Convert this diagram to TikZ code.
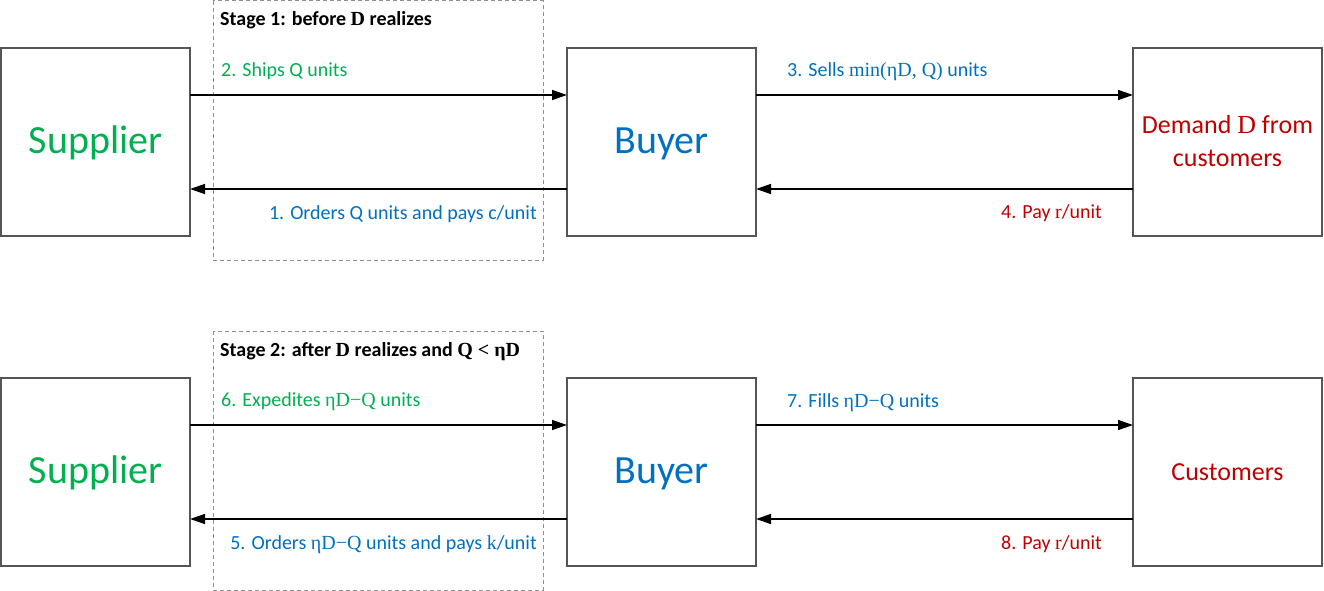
\documentclass[tikz,border=0pt]{standalone}
\usepackage{fontspec}
\setmainfont{Carlito}
\newfontfamily\mfont{Liberation Serif}
\usetikzlibrary{arrows.meta}
\definecolor{cgreen}{HTML}{00B050}
\definecolor{cblue}{HTML}{0070C0}
\definecolor{cred}{HTML}{C00000}
\definecolor{cbox}{HTML}{555555}
\definecolor{cdash}{HTML}{909090}
\newcommand{\mth}[1]{{\mfont #1}}
\begin{document}
\begin{tikzpicture}[x=1pt,y=-1pt,
  actor/.style={draw=cbox,line width=1.3pt,minimum width=189pt,minimum height=188pt,inner sep=0pt,align=center},
  flow/.style={line width=1.4pt,-{Triangle[length=15pt,width=10pt]}},
  stagebox/.style={draw=cdash,line width=1pt,dash pattern=on 4pt off 3pt},
  lbl/.style={inner sep=0pt,font=\fontsize{20}{24}\selectfont},
  ttl/.style={inner sep=0pt,font=\bfseries\fontsize{20}{24}\selectfont}]
\useasboundingbox (0,0) rectangle (1324,591);
% stage boxes
\draw[stagebox] (213,1) rectangle (543,260);
\draw[stagebox] (213,331) rectangle (543,590);
% top row
\node[actor] (s1) at (95.5,142) {};
\node[actor] (b1) at (661.5,142) {};
\node[actor] (d1) at (1227.5,142) {};
\node[inner sep=0pt,anchor=base,text=cgreen,font=\fontsize{40}{48}\selectfont] (s1t) at (95.5,153) {Supplier};
\node[inner sep=0pt,anchor=base,text=cblue,font=\fontsize{40}{48}\selectfont] (b1t) at (661.5,153) {Buyer};
\node[inner sep=0pt,anchor=base,text=cred,font=\fontsize{26}{32}\selectfont] (d1t) at (1227.5,133) {Demand \mth{D} from};
\node[inner sep=0pt,anchor=base,text=cred,font=\fontsize{26}{32}\selectfont] (d1u) at (1227.5,166) {customers};
\coordinate (s1a) at (190,95); \coordinate (b1a) at (567,95);
\coordinate (s1b) at (190,189); \coordinate (b1b) at (567,189);
\coordinate (b1c) at (756,95); \coordinate (d1a) at (1133,95);
\coordinate (b1d) at (756,189); \coordinate (d1b) at (1133,189);
\draw[flow] (s1a) -- (b1a);
\draw[flow] (b1b) -- (s1b);
\draw[flow] (b1c) -- (d1a);
\draw[flow] (d1b) -- (b1d);
\node[ttl,anchor=base west] (st1) at (220,26) {Stage 1: before \mth{D} realizes};
\node[lbl,anchor=base west,text=cgreen] (l2) at (221,77) {2. Ships Q units};
\node[lbl,anchor=base east,text=cblue] (l1) at (537,219) {1. Orders Q units and pays c/unit};
\node[lbl,anchor=base west,text=cblue] (l3) at (787,77) {3. Sells \mth{min(ηD, Q)} units};
\node[lbl,anchor=base east,text=cred] (l4) at (1102,218) {4. Pay \mth{r}/unit};
% bottom row
\node[actor] (s2) at (95.5,472) {};
\node[actor] (b2) at (661.5,472) {};
\node[actor] (d2) at (1227.5,472) {};
\node[inner sep=0pt,anchor=base,text=cgreen,font=\fontsize{40}{48}\selectfont] (s2t) at (95.5,483) {Supplier};
\node[inner sep=0pt,anchor=base,text=cblue,font=\fontsize{40}{48}\selectfont] (b2t) at (661.5,483) {Buyer};
\node[inner sep=0pt,anchor=base,text=cred,font=\fontsize{26}{32}\selectfont] (d2t) at (1227.5,480) {Customers};
\coordinate (s2a) at (190,425); \coordinate (b2a) at (567,425);
\coordinate (s2b) at (190,519); \coordinate (b2b) at (567,519);
\coordinate (b2c) at (756,425); \coordinate (d2a) at (1133,425);
\coordinate (b2d) at (756,519); \coordinate (d2b) at (1133,519);
\draw[flow] (s2a) -- (b2a);
\draw[flow] (b2b) -- (s2b);
\draw[flow] (b2c) -- (d2a);
\draw[flow] (d2b) -- (b2d);
\node[ttl,anchor=base west] (st2) at (220,356) {Stage 2: after \mth{D} realizes and \mth{Q < ηD}};
\node[lbl,anchor=base west,text=cgreen] (l6) at (221,406) {6. Expedites \mth{ηD−Q} units};
\node[lbl,anchor=base east,text=cblue] (l5) at (537,549) {5. Orders \mth{ηD−Q} units and pays \mth{k}/unit};
\node[lbl,anchor=base west,text=cblue] (l7) at (787,407) {7. Fills \mth{ηD−Q} units};
\node[lbl,anchor=base east,text=cred] (l8) at (1102,549) {8. Pay \mth{r}/unit};
\end{tikzpicture}
\end{document}
